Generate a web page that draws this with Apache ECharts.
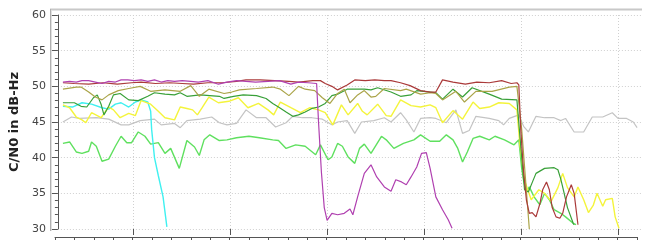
<!DOCTYPE html>
<html>
<head>
<meta charset="utf-8">
<script src="https://cdn.jsdelivr.net/npm/echarts@6/dist/echarts.min.js"></script>
<style>html,body{margin:0;padding:0;background:#fff;}#c{width:647px;height:249px;}</style>
</head>
<body>
<div id="c"></div>
<script>
// time in seconds (arbitrary units), C/N0 in dB-Hz
const yTicks = [30, 35, 40, 45, 50, 55, 60];
const yTitle = 'C/N0 in dB-Hz';

const magenta = [[18,50.6],[25,50.7],[32,50.6],[38,50.8],[45,50.8],[52,50.6],[59,50.4],[66,50.7],[73,50.6],[79,50.9],[86,50.9],[93,50.8],[100,50.9],[107,50.7],[114,50.9],[121,50.6],[128,50.8],[135,50.7],[143,50.8],[152,50.7],[160,50.6],[170,50.8],[181,50.3],[190,50.6],[200,50.8],[210,50.7],[220,50.6],[233,50.7],[245,50.8],[257,50.3],[265,50.6],[275,50.5],[284,50.4],
  [286,45],[289,38],[292,33],[295,31.2],[300,32.2],[306,32.0],[313,32.2],[319,32.8],[322,32.0],[327,34.5],[334,37.8],[341,39.0],[347,37.3],[355,35.9],[362,35.3],[367,36.9],[373,36.6],[378,36.2],[383,37.3],[389,38.7],[394,40.6],[399,40.7],[403,38.5],[409,34.5],[416,32.7],[422,31.3],[426,30.1]];

const brown = [[18,50.5],[30,50.4],[45,50.3],[60,50.5],[75,50.3],[90,50.5],[100,50.6],[115,50.4],[130,50.5],[143,50.4],[155,50.3],[170,50.5],[185,50.5],[200,50.7],[210,50.9],[225,50.9],[240,50.8],[255,50.7],[265,50.6],[280,50.8],[288,50.8],[293,50.4],[300,50.0],[306,49.5],[316,50.2],[324,50.9],[335,50.8],[345,50.9],[355,50.8],[362,50.8],[372,50.5],[382,50.1],[393,49.4],[403,49.2],[409,49.2],[416,50.9],[427,50.6],[440,50.3],[452,50.6],[465,50.5],[478,50.8],[488,50.4],[494,50.5],[496,50.2],
  [498,44],[501,38],[504,34],[507,32.2],[510,32.3],[514,31.7],[518,33.5],[521,35.5],[525,36.6],[528,35.5],[531,33],[535,31.7],[539,31.5],[542,32.2],[546,34.5],[551,36.2],[554,35],[558,30.6]];

const olive = [[18,49.6],[32,49.9],[37,49.9],[45,49.2],[52,48.5],[59,48.1],[66,48.8],[76,49.4],[87,49.7],[99,50.0],[110,49.3],[125,49.5],[141,49.3],[152,50.1],[161,48.6],[171,49.6],[187,49.0],[195,49.2],[203,49.5],[221,49.7],[238,49.9],[246,49.6],[255,48.7],[265,50.0],[272,49.6],[282,49.4],[290,48.4],[298,47.6],[306,49.0],[313,49.6],[319,47.7],[327,48.8],[334,49.4],[341,48.5],[346,48.6],[355,49.7],[372,49.4],[378,49.6],[393,48.9],[403,49.1],[409,49.0],[416,48.1],[430,49.3],[439,47.8],[451,49.3],[468,49.3],[486,49.9],[494,50.0],[496,49.8],
  [499,44],[503,37],[507,30.0]];

const darkGreen = [[18,47.7],[30,47.7],[37,47.2],[43,47.1],[50,48.4],[54,48.8],[58,47.5],[61,46.0],[66,47.2],[71,48.8],[78,49.0],[87,48.1],[97,48.0],[107,48.6],[114,49.1],[125,48.9],[135,48.8],[141,49.1],[148,48.6],[162,48.8],[172,48.7],[182,48.6],[187,48.3],[197,48.6],[207,48.8],[221,48.7],[231,48.3],[238,47.6],[244,47.1],[252,46.4],[259,45.8],[265,46.0],[272,46.4],[279,46.9],[286,47.1],[293,47.6],[300,48.7],[306,48.9],[316,49.6],[334,49.6],[341,49.5],[348,49.8],[362,49.2],[372,48.6],[383,48.8],[389,49.4],[403,49.2],[409,49.1],[416,48.2],[427,49.6],[437,48.5],[447,49.8],[465,48.9],[478,48.2],[494,48.1],[496,48.0],
  [499,40],[502,35.5],[506,35.2],[510,36.5],[514,37.8],[523,38.5],[533,38.6],[537,38.3],[540,37],[543,35.3],[547,33],[553,30.8],[554,30.6]];

const yellow = [[18,47.4],[25,47.0],[32,45.7],[38,45.3],[42,44.9],[48,46.3],[58,45.6],[66,47.1],[71,46.7],[78,45.6],[87,46.2],[94,45.9],[100,48.0],[110,47.5],[118,46.5],[125,45.6],[135,45.3],[141,47.1],[148,46.9],[154,46.7],[159,46.0],[164,47.0],[171,48.5],[181,47.7],[192,47.9],[202,48.4],[212,47.0],[223,47.6],[233,46.7],[239,46.0],[246,47.8],[257,47.0],[267,46.3],[277,47.0],[286,46.7],[293,46.3],[301,44.6],[310,47.4],[317,46.0],[327,47.6],[332,46.5],[337,46.0],[348,47.5],[357,45.9],[362,45.8],[372,48.1],[383,47.3],[393,47.1],[403,47.4],[409,47.0],[416,44.9],[427,46.6],[437,45.4],[448,47.8],[455,46.9],[465,47.1],[475,47.7],[486,47.6],[494,46.7],
  [497,42],[502,36.8],[509,34.1],[517,35.5],[523,35.0],[530,33.9],[537,35.8],[542,37.8],[547,35.8],[554,34.5],[558,35.9],[564,34.1],[569,32.3],[574,33.3],[578,35.0],[584,33.2],[587,34.1],[594,34.3],[597,31.7],[601,30.1]];

const gray = [[18,45.0],[27,45.7],[35,45.5],[53,45.6],[66,45.4],[79,44.6],[87,44.6],[99,45.2],[114,45.4],[121,44.6],[135,44.8],[141,44.2],[148,45.2],[162,45.4],[174,45.7],[182,44.9],[190,44.6],[200,44.8],[210,46.7],[221,45.6],[231,45.6],[241,44.3],[252,44.9],[259,45.8],[269,45.6],[279,45.6],[290,45.4],[300,44.6],[306,45.0],[316,45.2],[324,43.4],[331,45.0],[344,45.2],[355,45.6],[362,45.0],[372,46.3],[378,45.3],[386,43.6],[393,45.5],[403,45.6],[409,45.5],[420,44.9],[430,46.7],[437,43.4],[444,43.8],[451,45.8],[465,45.5],[475,45.2],[480,44.6],[486,45.5],[496,46.0],[501,44.4],[506,43.6],[514,45.8],[523,45.6],[533,45.6],[540,45.2],[545,45.5],[554,43.6],[564,43.6],[573,45.7],[584,45.7],[594,46.3],[600,45.5],[609,45.5],[616,45.0],[620,44.2]];

const lightGreen = [[18,42.0],[25,42.2],[32,40.8],[38,40.6],[45,40.9],[48,42.2],[53,41.6],[59,39.5],[66,39.8],[73,41.6],[79,43.0],[85,42.1],[90,42.1],[97,43.6],[104,43.0],[110,41.9],[118,42.1],[125,40.6],[131,41.3],[140,38.5],[148,42.4],[156,41.5],[161,40.3],[166,42.5],[172,43.2],[182,42.4],[190,42.5],[200,42.8],[213,43.0],[224,42.8],[238,42.5],[244,42.4],[252,41.3],[262,41.8],[272,41.6],[283,40.4],[288,41.8],[296,39.7],[300,40.1],[306,42.0],[311,41.6],[317,40.1],[324,39.2],[329,41.3],[334,41.9],[341,40.6],[352,43.0],[357,42.5],[365,41.3],[375,42.0],[386,42.5],[393,43.2],[403,42.3],[413,42.3],[420,43.2],[427,42.5],[432,41.3],[437,39.4],[442,40.8],[448,42.7],[455,43.0],[465,42.5],[471,43.0],[481,42.5],[491,41.8],[496,42.5],
  [499,38.5],[501,36.8],[504,35.2],[507,35.9],[512,34.5],[518,33.4],[523,35.0],[528,34.1],[533,32.7],[540,32.2],[545,31.7],[553,30.8],[556,30.6]];

const cyan = [[18,47.2],[28,47.1],[38,47.7],[48,47.5],[59,47.0],[66,46.8],[73,47.5],[79,47.7],[87,47.1],[94,47.8],[100,48.1],[107,47.8],[110,46.5],[111,44],[114,40],[118,37.5],[123,34.5],[127,30.3]];

const seriesDefs = [
  {name:'gray', data: gray, color:'#c4c4c4', w:1.2},
  {name:'lightGreen', data: lightGreen, color:'#5fe05f', w:1.4},
  {name:'cyan', data: cyan, color:'#3ff0f0', w:1.4},
  {name:'yellow', data: yellow, color:'#f4f43c', w:1.4},
  {name:'darkGreen', data: darkGreen, color:'#38a038', w:1.2},
  {name:'olive', data: olive, color:'#aaa448', w:1.2},
  {name:'brown', data: brown, color:'#aa3a3a', w:1.2},
  {name:'magenta', data: magenta, color:'#b040b0', w:1.2}
];

const chart = echarts.init(document.getElementById('c'), null, {renderer:'canvas'});
const option = {
  animation: false,
  backgroundColor: '#fff',
  grid: [
    {left: 51, right: 5, top: 15, bottom: 20},
    {left: 55, right: 10, top: 15, bottom: 12},
    {left: 133, right: 29, top: 15, bottom: 20}
  ],
  xAxis: [
    {type:'value', gridIndex:0, min:15.88, max:625.15, show:true,
     axisLine:{show:false}, axisTick:{show:false}, axisLabel:{show:false}, splitLine:{show:false}},
    {type:'value', gridIndex:1, min:20, max:620, interval:20,
     axisLine:{show:true, lineStyle:{color:'#555', width:1}},
     axisTick:{show:true, length:3, lineStyle:{color:'#555'}},
     axisLabel:{show:false}, splitLine:{show:false}},
    {type:'value', gridIndex:2, min:100, max:600, interval:100, offset:8,
     axisLine:{show:false},
     axisTick:{show:true, length:6, lineStyle:{color:'#555'}},
     axisLabel:{show:false},
     splitLine:{show:true, lineStyle:{color:'#d0d0d0', type:[1,2], width:1}}}
  ],
  yAxis: [
    {type:'value', gridIndex:0, min:30, max:60, interval:5, offset:3,
     name: yTitle, nameLocation:'middle', nameGap:27, nameRotate:90,
     nameTextStyle:{fontFamily:'DejaVu Sans', fontSize:13, fontWeight:'bold', color:'#222'},
     axisLine:{show:true, lineStyle:{color:'#555', width:1}},
     axisTick:{show:true, length:6, lineStyle:{color:'#555'}},
     minorTick:{show:true, splitNumber:5, length:3, lineStyle:{color:'#555'}},
     axisLabel:{show:true, margin:12, fontFamily:'DejaVu Sans', fontSize:11, color:'#444',
       customValues: yTicks},
     splitLine:{show:true, lineStyle:{color:'#d0d0d0', type:[1,2], width:1}}},
    {type:'value', gridIndex:1, show:false},
    {type:'value', gridIndex:2, show:false}
  ],
  graphic: [
    {type:'line', shape:{x1:50, y1:9.5, x2:642, y2:9.5}, style:{stroke:'#c8c8c8', lineWidth:2}, silent:true},
    {type:'line', shape:{x1:50.5, y1:9, x2:50.5, y2:231}, style:{stroke:'#b0b0b0', lineWidth:1}, silent:true},
    {type:'line', shape:{x1:51.5, y1:10, x2:51.5, y2:231}, style:{stroke:'#e0e0e0', lineWidth:1}, silent:true}
  ],
  series: seriesDefs.map(d => ({
    type:'line', name:d.name, xAxisIndex:0, yAxisIndex:0, data:d.data,
    showSymbol:false, symbol:'none', clip:true,
    lineStyle:{color:d.color, width:d.w}, itemStyle:{color:d.color}, z:2
  }))
};
chart.setOption(option);
</script>
</body>
</html>
